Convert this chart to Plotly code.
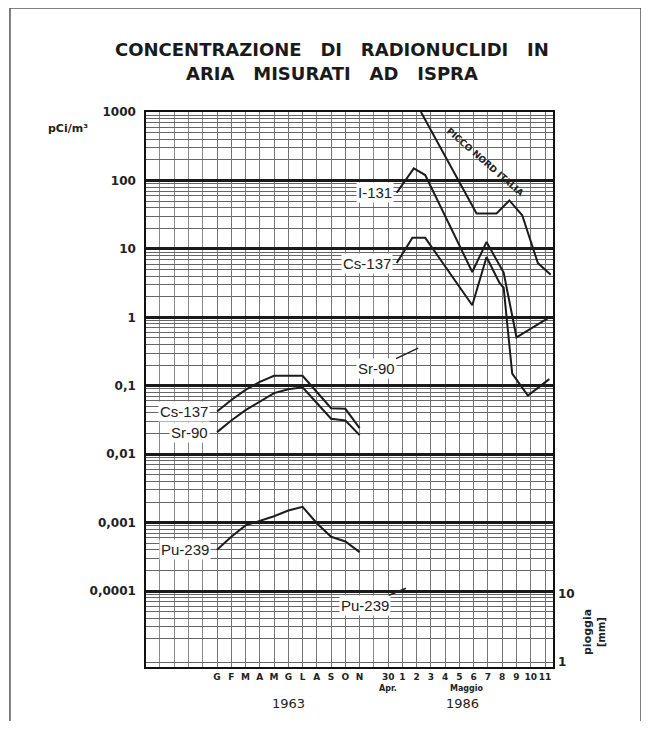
import numpy as np
import plotly.graph_objects as go

# ---------------- data ----------------
months_1963 = ["G", "F", "M", "A", "M", "G", "L", "A", "S", "O", "N"]
days_1986 = ["30", "1", "2", "3", "4", "5", "6", "7", "8", "9", "10", "11"]

y_tick_vals = [0.0001, 0.001, 0.01, 0.1, 1, 10, 100, 1000]
y_tick_text = ["0,0001", "0,001", "0,01", "0,1", "1", "10", "100", "1000"]
rain_tick_vals = [1, 10]
rain_tick_text = ["1", "10"]

# 1963, monthly values (pCi/m3)
cs137_1963 = [0.042, 0.062, 0.087, 0.114, 0.14, 0.14, 0.14, 0.081, 0.047, 0.046, 0.024]
sr90_1963 = [0.021, 0.031, 0.044, 0.058, 0.078, 0.089, 0.095, 0.056, 0.033, 0.031, 0.019]
pu239_1963 = [0.0004, 0.00062, 0.00091, 0.00106, 0.00124, 0.0015, 0.0017, 0.00098, 0.00062, 0.00053, 0.00037]

# 1986, day of measurement (0 = 30 aprile, 1 = 1 maggio, ...)
i131_1986_day = [0.6, 1.8, 2.6, 5.9, 6.9, 8.1, 9.0, 11.3]
i131_1986 = [66, 150, 120, 4.6, 12.6, 4.5, 0.51, 1.0]

cs137_1986_day = [0.6, 1.7, 2.6, 5.9, 6.9, 7.8, 8.1, 8.7, 9.8, 11.3]
cs137_1986 = [6.2, 14.5, 14.5, 1.5, 7.6, 3.2, 2.7, 0.15, 0.072, 0.125]

picco_day = [2.3, 6.2, 7.6, 8.5, 9.4, 10.5, 11.4]
picco_nord_italia = [1000, 33, 33, 51, 31, 6.2, 4.2]

# ---------------- axis positions ----------------
pos_1963 = list(range(len(months_1963)))
day0 = len(months_1963) + 1
pos_1986 = [day0 + i for i in range(len(days_1986))]


def x86(days):
    return [day0 + d for d in days]


LINE = dict(color="#1c1c1c", width=2)
fig = go.Figure()
for xs, ys in [
    (pos_1963, cs137_1963),
    (pos_1963, sr90_1963),
    (pos_1963, pu239_1963),
    (x86(i131_1986_day), i131_1986),
    (x86(cs137_1986_day), cs137_1986),
    (x86(picco_day), picco_nord_italia),
]:
    fig.add_trace(go.Scatter(x=xs, y=ys, mode="lines", line=LINE,
                             showlegend=False, hoverinfo="skip"))

# invisible trace on rain axis so it is drawn
fig.add_trace(go.Scatter(x=[None], y=[None], yaxis="y2", showlegend=False, hoverinfo="skip"))

minor_vals = [k * 10.0 ** e for e in range(-6, 3) for k in range(2, 10)]

LAB = dict(family="Liberation Sans, Arial, sans-serif", size=15, color="#222")
TICK = dict(family="DejaVu Sans, sans-serif", size=12, color="#222", weight="bold")

fig.update_layout(
    width=633, height=713,
    margin=dict(l=138, r=88, t=104, b=54, autoexpand=False),
    paper_bgcolor="white", plot_bgcolor="white",
    xaxis=dict(
        range=[-4.98, 23.56],
        tickmode="array",
        tickvals=pos_1963 + pos_1986,
        ticktext=months_1963 + days_1986,
        tickangle=0,
        tickfont=dict(family="DejaVu Sans, sans-serif", size=9, color="#222", weight="bold"),
        ticks="", showgrid=True, gridcolor="#777", gridwidth=1,
        minor=dict(tickmode="linear", tick0=0, dtick=1, showgrid=True,
                   gridcolor="#8a8a8a", gridwidth=1, ticks=""),
        showline=True, linecolor="#111", linewidth=1.5, mirror=True,
        zeroline=False, fixedrange=True,
    ),
    yaxis=dict(
        type="log", range=[-5.11, 3.0],
        tickmode="array", tickvals=y_tick_vals, ticktext=y_tick_text,
        tickfont=TICK, ticks="", ticklabelstandoff=6,
        showgrid=True, gridcolor="#1a1a1a", gridwidth=2.5,
        minor=dict(tickmode="array", tickvals=minor_vals, showgrid=True,
                   gridcolor="#666", gridwidth=1, ticks=""),
        showline=True, linecolor="#111", linewidth=1.5, mirror=True,
        zeroline=False, fixedrange=True,
    ),
    yaxis2=dict(
        type="log", range=[-0.073, 8.04], overlaying="y", side="right",
        tickmode="array", tickvals=rain_tick_vals, ticktext=rain_tick_text,
        tickfont=TICK, ticks="", ticklabelstandoff=4,
        showgrid=False, showline=False, zeroline=False, fixedrange=True,
    ),
)

ann = []
# curve labels at the start of each curve
for txt, xv, yv, xs in [
    ("I-131", x86(i131_1986_day)[0], i131_1986[0], -3),
    ("Cs-137", x86(cs137_1986_day)[0], cs137_1986[0], -4),
    ("Cs-137", pos_1963[0], cs137_1963[0], -7),
    ("Sr-90", pos_1963[0], sr90_1963[0], -7),
    ("Pu-239", pos_1963[0], pu239_1963[0], -6),
]:
    ann.append(dict(x=xv, y=np.log10(yv), xref="x", yref="y", text=txt,
                    showarrow=False, xanchor="right", yanchor="middle",
                    xshift=xs, font=LAB, bgcolor="white"))

# labels with leader lines
ann.append(dict(x=14.1, y=-0.45, xref="x", yref="y", text="Sr-90",
                showarrow=True, arrowhead=0, arrowwidth=1.5, arrowcolor="#222",
                ax=-42, ay=20, font=LAB, bgcolor="white"))
ann.append(dict(x=13.25, y=-3.96, xref="x", yref="y", text="Pu-239",
                showarrow=True, arrowhead=0, arrowwidth=1.5, arrowcolor="#222",
                ax=-41, ay=17, font=LAB, bgcolor="white"))
ann.append(dict(x=18.8, y=2.27, xref="x", yref="y", text="PICCO NORD ITALIA",
                showarrow=False, textangle=41,
                font=dict(family="DejaVu Sans, sans-serif", size=9, color="#222", weight="bold")))

# title
TITLE = dict(family="DejaVu Sans, sans-serif", size=18, color="#1a1a1a", weight="bold")
ann.append(dict(x=0.457, y=1.1135, xref="paper", yref="paper", showarrow=False,
                text="CONCENTRAZIONE&nbsp;&nbsp; DI&nbsp;&nbsp; RADIONUCLIDI&nbsp;&nbsp; IN",
                font=TITLE, xanchor="center", yanchor="middle"))
ann.append(dict(x=0.457, y=1.070, xref="paper", yref="paper", showarrow=False,
                text="ARIA&nbsp;&nbsp; MISURATI&nbsp;&nbsp; AD&nbsp;&nbsp; ISPRA",
                font=TITLE, xanchor="center", yanchor="middle"))

# units / axis titles
ann.append(dict(x=-0.1916, y=0.971, xref="paper", yref="paper", showarrow=False,
                xanchor="center", yanchor="middle",
                text="pCi/m³", font=dict(family="DejaVu Sans, sans-serif", size=11, color="#222", weight="bold")))
ann.append(dict(x=1.0835, y=0.063, xref="paper", yref="paper", showarrow=False,
                xanchor="center", yanchor="middle",
                text="pioggia", textangle=-90,
                font=dict(family="DejaVu Sans, sans-serif", size=11, color="#222", weight="bold")))
ann.append(dict(x=1.118, y=0.063, xref="paper", yref="paper", showarrow=False,
                xanchor="center", yanchor="middle",
                text="[mm]", textangle=-90,
                font=dict(family="DejaVu Sans, sans-serif", size=10, color="#222", weight="bold")))

SMALL = dict(family="DejaVu Sans, sans-serif", size=8, color="#222", weight="bold")
ann.append(dict(x=day0, y=-0.038, xref="x", yref="paper", showarrow=False,
                xanchor="center", yanchor="middle", text="Apr.", font=SMALL))
ann.append(dict(x=day0 + 5.5, y=-0.038, xref="x", yref="paper", showarrow=False,
                xanchor="center", yanchor="middle", text="Maggio", font=SMALL))
YEAR = dict(family="DejaVu Sans, sans-serif", size=13, color="#222")
ann.append(dict(x=5, y=-0.066, xref="x", yref="paper", showarrow=False,
                xanchor="center", yanchor="middle", text="1963", font=YEAR))
ann.append(dict(x=17.2, y=-0.066, xref="x", yref="paper", showarrow=False,
                xanchor="center", yanchor="middle", text="1986", font=YEAR))

fig.update_layout(annotations=ann)

# page frame of the scanned sheet
fig.add_shape(type="rect", xref="paper", yref="paper",
              x0=-0.3342, x1=1.2162, y0=-0.13, y1=1.1874,
              line=dict(color="#555", width=1.5), fillcolor="rgba(0,0,0,0)", layer="below")

fig.write_html("out.html")
